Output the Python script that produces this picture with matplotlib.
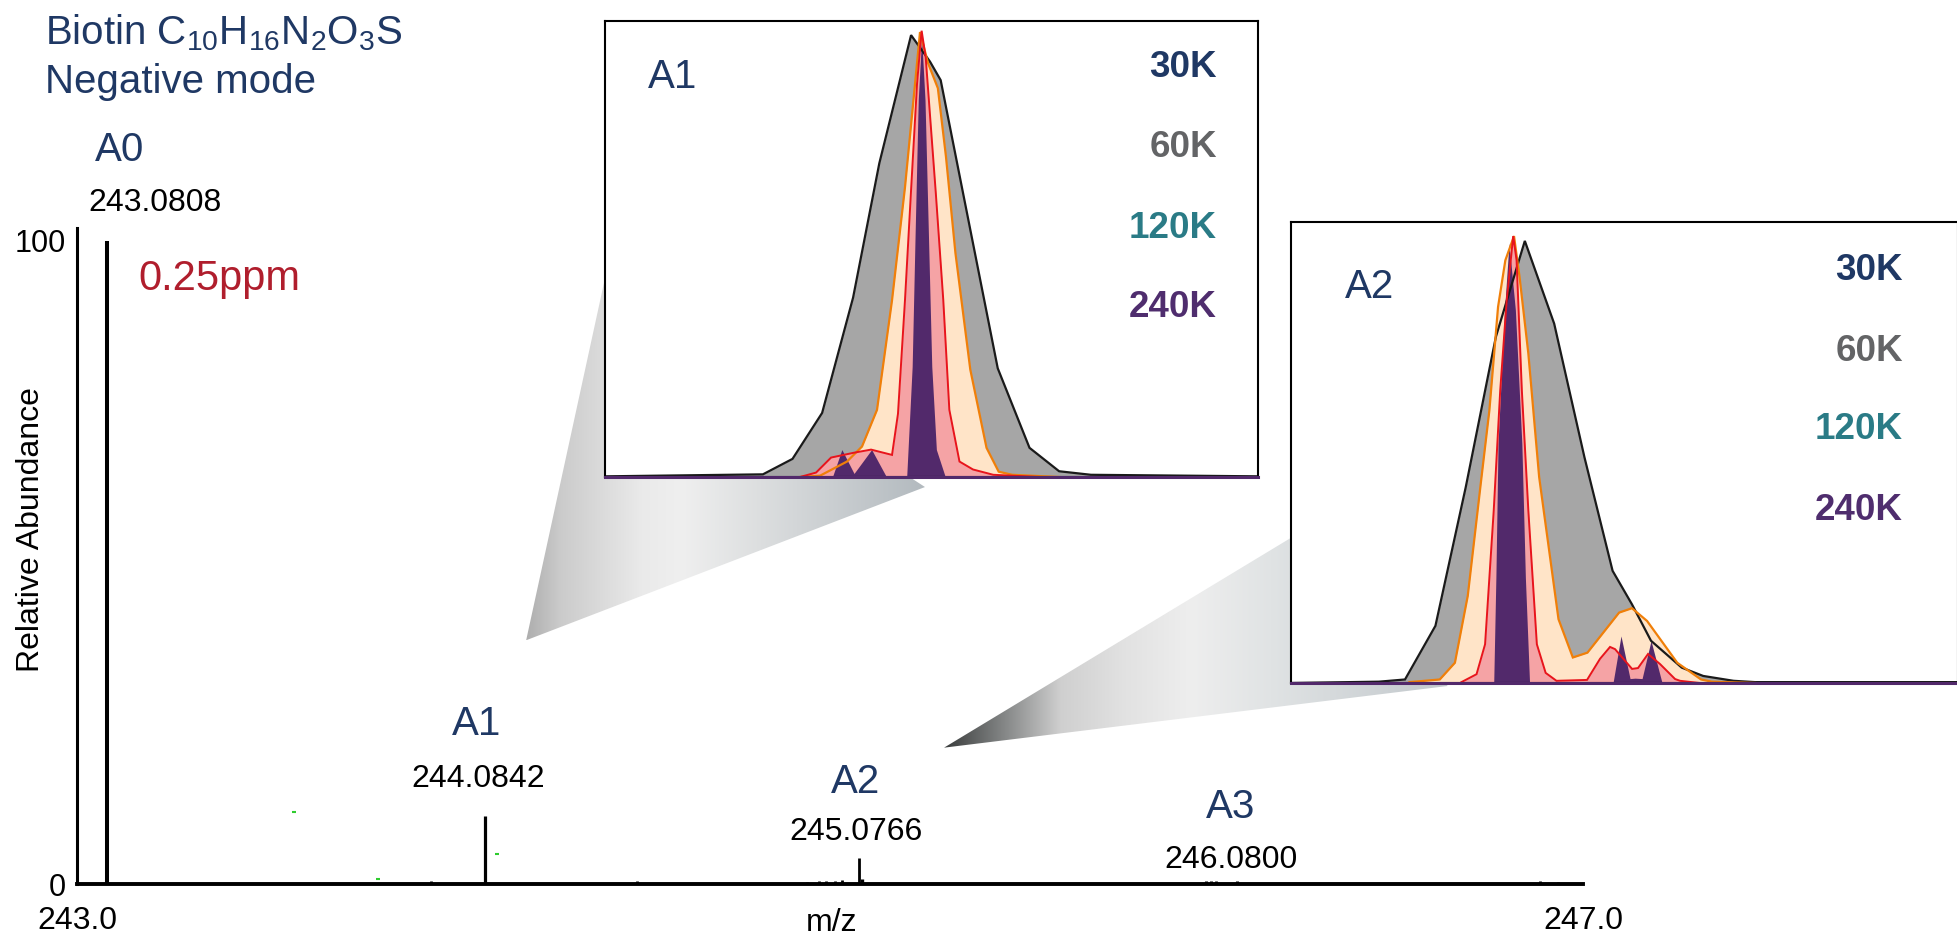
import numpy as np
import matplotlib
matplotlib.use('Agg')
import matplotlib.pyplot as plt
from matplotlib.colors import LinearSegmentedColormap
from matplotlib.patches import Polygon

plt.rcParams['font.family'] = ['Liberation Sans', 'DejaVu Sans']
plt.rcParams['mathtext.fontset'] = 'custom'
plt.rcParams['mathtext.rm'] = 'Liberation Sans'
plt.rcParams['mathtext.it'] = 'Liberation Sans:italic'
plt.rcParams['mathtext.bf'] = 'Liberation Sans:bold'

W, H = 1957, 940
NAVY = '#1F3864'

# ---- full scan: centroid peaks (m/z, relative abundance %) ----
peak_mz = [243.0808, 243.940, 244.0842, 244.487, 244.940, 244.972, 244.990,
           245.012, 245.032, 245.0766, 245.086, 245.998, 246.012, 246.026,
           246.0800, 246.886, 246.934]
peak_int = [100, 0.4, 10.6, 0.4, 0.3, 0.5, 0.4, 0.5, 0.6, 4.0, 0.7,
            0.4, 0.4, 0.4, 0.5, 0.4, 0.3]
peak_lw = [2.9, 2.0, 2.3, 2.0, 2.0, 2.0, 2.0, 2.0, 2.0, 2.0, 2.4,
           2.2, 2.2, 2.0, 2.2, 2.0, 2.0]

# isolated noise points (green)
noise_mz = [243.576, 243.799, 244.116]
noise_int = [11.2, 0.8, 4.7]

iso_names = ['A0', 'A1', 'A2', 'A3']
iso_mz = [243.0808, 244.0842, 245.0766, 246.0800]

res_labels = ['30K', '60K', '120K', '240K']
res_colors = [NAVY, '#636466', '#2A7B86', '#4F2D6E']

# ---- zoomed profiles, x = offset from peak (mDa), y = relative intensity % ----
a1_30k_x = [-23.4, -11.74, -9.55, -7.36, -5.07, -3.13, -0.78, 0.62, 1.41,
            5.63, 7.98, 10.17, 12.52, 24.9]
a1_30k_y = [0.15, 0.6, 4.1, 14.5, 40.6, 71.0, 100, 94.0, 89.8, 24.6, 6.6,
            1.3, 0.5, 0.15]
a1_60k_x = [-9.0, -7.51, -5.52, -4.41, -3.30, -2.19, -1.23, -0.49, -0.12,
            0.47, 1.2, 1.8, 2.5, 3.6, 4.8, 5.7, 6.7, 10.2]
a1_60k_y = [0, 0.3, 3.5, 6.9, 15.2, 40.0, 65.6, 88.9, 100.7, 93.7, 88.0,
            72.5, 50.7, 24.3, 6.6, 1.2, 0.5, 0]
a1_120k_x = [-9.0, -7.81, -6.70, -5.0, -3.74, -2.19, -1.75, -1.23, -0.78,
             -0.34, 0, 0.3, 1.05, 1.6, 2.05, 2.8, 3.8, 5.3, 8.76]
a1_120k_y = [0, 1.0, 4.4, 5.5, 6.2, 5.0, 14.3, 40.1, 65.0, 89.0, 101, 95.0,
             64.2, 40.1, 15.2, 3.5, 1.7, 0.5, 0]
a1_240k_x = [-23.4, -6.6, -5.9, -5.0, -3.7, -2.6, -1.10, -0.70, -0.48,
             -0.25, 0, 0.25, 0.5, 0.75, 1.09, 1.72, 24.9]
a1_240k_y = [0, 0, 6.2, 0.8, 6.2, 0, 0.3, 25, 55.2, 85.3, 99.6, 85.3, 55.2,
             25, 6.2, 0.3, 0]

a2_30k_x = [-16.2, -9.62, -7.69, -5.44, -3.20, -0.97, 1.17, 3.34, 5.58,
            7.66, 9.09, 10.5, 12.77, 14.36, 16.6, 18.2, 33.2]
a2_30k_y = [0, 0.3, 0.8, 13.0, 44.5, 78.7, 100.5, 81.7, 51.3, 25.5, 17.9,
            9.6, 3.5, 1.6, 0.5, 0.2, 0.2]
a2_60k_x = [-7.36, -5.12, -4.0, -3.05, -2.09, -1.45, -0.81, -0.27, 0.37,
            0.78, 1.43, 2.23, 3.66, 4.72, 5.80, 8.14, 9.09, 10.21, 12.44,
            14.2, 15.0, 18.2]
a2_60k_y = [0.2, 0.8, 4.6, 19.8, 45.3, 62.0, 85.5, 96.1, 101.6, 92.3, 74.9,
            46.8, 14.5, 5.8, 6.9, 16.0, 17.0, 14.1, 4.6, 0.8, 0.3, 0]
a2_120k_x = [-3.52, -2.40, -1.77, -1.13, -0.65, -0.17, 0.31, 0.56, 0.95,
             1.43, 2.06, 2.71, 3.51, 5.77, 6.73, 7.47, 7.84, 9.10, 9.54,
             10.28, 11.17, 12.28, 12.65, 14.1]
a2_120k_y = [0.2, 2.0, 8.8, 39.2, 66.5, 87.0, 101.6, 96.1, 66.5, 39.2, 8.8,
             2.3, 0.5, 0.7, 5.5, 8.2, 7.7, 3.2, 3.4, 6.6, 4.3, 0.9, 0.5, 0]
a2_240k_x = [-16.2, -1.13, -0.97, -0.81, -0.33, 0, 0.47, 0.95, 1.21, 1.52,
             7.69, 8.28, 8.95, 9.32, 9.84, 10.5, 11.32, 33.2]
a2_240k_y = [0, 0, 24.0, 54.4, 84.8, 100, 84.8, 54.4, 24.0, 0,
             0, 10.7, 1.0, 1.1, 1.0, 9.6, 0, 0]


def fpos(x, y):
    """pixel position (from top-left) -> figure fraction"""
    return x / W, 1 - y / H


fig = plt.figure(figsize=(W / 100, H / 100), dpi=100)

# ---- main spectrum ----
ax = fig.add_axes([77 / W, 56 / H, (1583 - 77) / W, (884 - 228) / H], zorder=0)
ax.vlines(peak_mz, 0, peak_int, colors='black', linewidths=peak_lw)
ax.plot(noise_mz, noise_int, ls='none', marker='_', ms=3, mew=1.5, color='#2ECC2E')
ax.set_xlim(243.0, 247.0)
ax.set_ylim(0, 102)
ax.set_xticks([243.0, 247.0])
ax.set_xticklabels(['243.0', '247.0'])
ax.set_yticks([0, 100])
ax.set_yticklabels(['0', '100'])
ax.tick_params(axis='x', length=0, pad=16, labelsize=23)
ax.tick_params(axis='y', length=0, pad=8, labelsize=22)
for s in ['top', 'right']:
    ax.spines[s].set_visible(False)
ax.spines['left'].set_linewidth(2.2)
ax.spines['bottom'].set_linewidth(2.8)

fig.text(*fpos(832, 931), 'm/z', ha='center', va='baseline', fontsize=23)
fig.text(*fpos(31, 530), 'Relative Abundance', rotation=90, ha='center',
         va='center', fontsize=23)

fig.text(*fpos(45, 44), r'Biotin C$_{10}$H$_{16}$N$_{2}$O$_{3}$S', fontsize=29,
         color=NAVY, ha='left', va='baseline')
fig.text(*fpos(45, 93), 'Negative mode', fontsize=29, color=NAVY,
         ha='left', va='baseline')
fig.text(*fpos(138, 290), '0.25ppm', fontsize=30, color='#B01E2D',
         ha='left', va='baseline')

# isotope labels: name above, measured m/z below
name_px = [(120, 161), (477, 735), (856, 793), (1231, 818)]
mz_px = [(155, 211), (478, 787), (856, 840), (1231, 868)]
for name, mz, (nx, ny), (mx, my) in zip(iso_names, iso_mz, name_px, mz_px):
    fig.text(*fpos(nx, ny), name, fontsize=29, color=NAVY, ha='center', va='baseline')
    fig.text(*fpos(mx, my), f'{mz:.4f}', fontsize=23, color='black',
             ha='center', va='baseline')

# ---- zoom insets ----
def inset(rect, xlim, ytop, name, name_xy, lab_x, lab_y, curves, base_x):
    ins = fig.add_axes(rect, zorder=2)
    ins.set_facecolor('white')
    for (x, y, fc, ec, lw) in curves:
        ins.fill_between(x, y, 0, color=fc, lw=0)
        if ec is not None:
            ins.plot(x, y, color=ec, lw=lw, solid_joinstyle='miter')
    ins.plot(base_x, [0, 0], color='#52296B', lw=2.2, clip_on=False, zorder=5)
    ins.set_xlim(*xlim)
    ins.set_ylim(0, ytop)
    ins.set_xticks([])
    ins.set_yticks([])
    for s in ins.spines.values():
        s.set_linewidth(1.5)
        s.set_color('black')
    ins.text(*name_xy, name, transform=ins.transAxes, fontsize=29, color=NAVY,
             ha='center', va='center')
    for lab, col, yy in zip(res_labels, res_colors, lab_y):
        ins.text(lab_x, yy, lab, transform=ins.transAxes, fontsize=26.5,
                 fontweight='bold', color=col, ha='right', va='center')
    return ins


GRAY_FILL, PEACH, PINK, PURPLE = '#A6A6A6', '#FFE4C8', '#F5A3A5', '#52296B'

ins1 = inset([605 / W, (940 - 477) / H, 653 / W, 456 / H], (-23.42, 24.88), 103.2,
             'A1', (0.103, 0.877), 0.937, [0.897, 0.7215, 0.546, 0.371],
             [(a1_30k_x, a1_30k_y, GRAY_FILL, '#1A1A1A', 1.6),
              (a1_60k_x, a1_60k_y, PEACH, '#F07F09', 1.6),
              (a1_120k_x, a1_120k_y, PINK, '#E8141C', 1.4),
              (a1_240k_x, a1_240k_y, PURPLE, None, 0)],
             [-23.42, 24.88])

ins2 = inset([1291 / W, (940 - 683) / H, 667 / W, 461 / H], (-16.12, 33.2), 104.8,
             'A2', (0.118, 0.859), 0.9175, [0.894, 0.720, 0.549, 0.375],
             [(a2_30k_x, a2_30k_y, GRAY_FILL, '#1A1A1A', 1.6),
              (a2_60k_x, a2_60k_y, PEACH, '#F07F09', 1.6),
              (a2_120k_x, a2_120k_y, PINK, '#E8141C', 1.4),
              (a2_240k_x, a2_240k_y, PURPLE, None, 0)],
             [-16.12, 33.2])

# ---- shaded callout cones from the spectrum to each inset ----
ov = fig.add_axes([0, 0, 1, 1], zorder=1)
ov.set_xlim(0, W)
ov.set_ylim(0, H)
ov.axis('off')
ov.patch.set_alpha(0)


def cone(tip, ins, top_frac, right_frac, stops):
    disp = np.array([ax.transData.transform(tip),
                     ins.transAxes.transform(top_frac),
                     ins.transAxes.transform(right_frac)])
    pts = ov.transData.inverted().transform(disp)
    poly = Polygon(pts, closed=True, fc='none', ec='none', transform=ov.transData)
    ov.add_patch(poly)
    cmap = LinearSegmentedColormap.from_list('cone', stops)
    im = ov.imshow(np.linspace(0, 1, 256).reshape(1, -1), cmap=cmap,
                   extent=(pts[:, 0].min(), pts[:, 0].max(),
                           pts[:, 1].min(), pts[:, 1].max()),
                   aspect='auto', interpolation='bilinear', origin='lower')
    im.set_clip_path(poly)


cone((244.193, 37.9), ins1, (0.0, 0.436), (0.490, -0.022),
     [(0, '#aeaeae'), (0.085, '#cbcbcb'), (0.29, '#eaeaea'), (0.39, '#efefef'),
      (0.59, '#dcdedf'), (1.0, '#b3babf')])
cone((245.303, 21.2), ins2, (0.0, 0.315), (0.235, -0.0065),
     [(0, '#3a3d3d'), (0.13, '#8c8e8e'), (0.23, '#cfcfcf'), (0.36, '#e2e2e2'),
      (0.49, '#eeeeee'), (0.65, '#e0e3e4'), (1.0, '#c2c8cc')])
ov.set_xlim(0, W)
ov.set_ylim(0, H)

fig.savefig('out.png', dpi=100)
